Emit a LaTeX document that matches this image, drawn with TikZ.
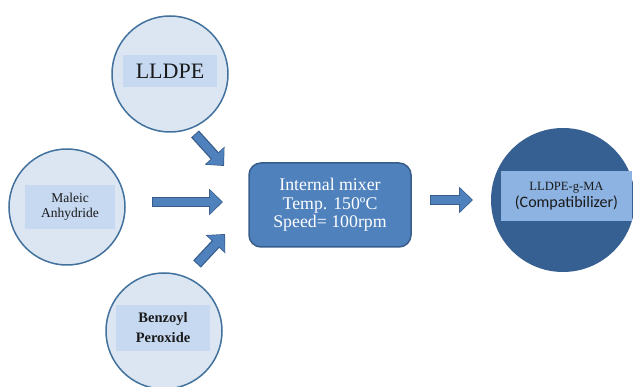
\documentclass[tikz,border=0pt]{standalone}
\usepackage{fontspec}
\setmainfont{Liberation Serif}
\newfontfamily\calibrifont{Carlito}
\usetikzlibrary{arrows.meta}
\definecolor{paleBlue}{HTML}{DCE6F2}
\definecolor{labelBlue}{HTML}{C6D9F1}
\definecolor{edgeBlue}{HTML}{41719C}
\definecolor{mixBlue}{HTML}{4F81BD}
\definecolor{mixEdge}{HTML}{385D8A}
\definecolor{deepBlue}{HTML}{376092}
\definecolor{skyBlue}{HTML}{8DB3E2}
\definecolor{ink}{HTML}{1A1A1A}

\begin{document}
\begin{tikzpicture}[x=1pt,y=-1pt,
  src/.style={circle,draw=edgeBlue,line width=1.5pt,fill=paleBlue,minimum size=116pt,inner sep=0pt},
  lbl/.style={fill=labelBlue,inner sep=0pt,align=center,text=ink},
  blkedge/.style={line width=10.5pt,mixEdge,-{Triangle[width=26pt,length=14pt]}},
  blk/.style={line width=8pt,mixBlue,-{Triangle[width=23pt,length=12pt]}}]
\useasboundingbox (0,0) rectangle (633,387);
% raw materials
\node[src] (lldpe) at (170,74) {};
\node[lbl,minimum width=94pt,minimum height=32pt,font=\fontsize{22}{24}\selectfont] (lldpeTxt) at (170,71) {LLDPE};
\node[src] (maleic) at (67,207) {};
\node[lbl,minimum width=90pt,minimum height=44pt,font=\fontsize{13.5}{15}\selectfont] (maleicTxt) at (70,207) {Maleic\\Anhydride};
\node[src] (bpo) at (164,331) {};
\node[lbl,minimum width=94pt,minimum height=46pt,font=\fontsize{14.5}{20}\selectfont\bfseries] (bpoTxt) at (163,328) {Benzoyl\\Peroxide};
% mixer and product
\node[draw=mixEdge,line width=1.5pt,fill=mixBlue,rounded corners=12pt,minimum width=162pt,minimum height=84pt,
  text=white,align=center,font=\fontsize{17.8}{18.5}\selectfont] (mixer) at (330,205) {Internal mixer\\Temp. 150ºC\\Speed= 100rpm};
\node[circle,fill=deepBlue,minimum size=144pt,inner sep=0pt] (product) at (563,200) {};
\node[fill=skyBlue,inner sep=0pt,minimum width=131pt,minimum height=50pt,align=center,text=ink,
  font=\fontsize{12.6}{17}\selectfont] (productTxt) at (566.5,196) {LLDPE-g-MA\\{\calibrifont\fontsize{16}{17}\selectfont (Compatibilizer)}};
% block arrows
\coordinate (t1) at (195,134); \coordinate (h1) at (224,166);
\coordinate (t2) at (152,202); \coordinate (h2) at (223,202);
\coordinate (t3) at (197,264); \coordinate (h3) at (225,234);
\coordinate (t4) at (430,200); \coordinate (h4) at (473,200);
\foreach \i in {1,...,4}{
  \draw[blkedge] (t\i) -- (h\i);
  \draw[blk,shorten <=1pt,shorten >=1.2pt] (t\i) -- (h\i);
}
\end{tikzpicture}
\end{document}
